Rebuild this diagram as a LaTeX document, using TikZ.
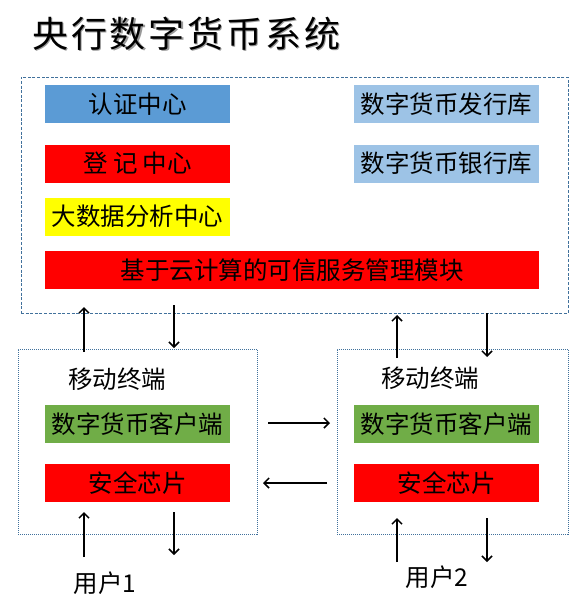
\documentclass[tikz,border=0pt]{standalone}
\usepackage{fontspec}
\setmainfont{Noto Sans CJK SC}
\newfontfamily\titlefont[LetterSpace=8]{Noto Sans CJK SC}
\usetikzlibrary{arrows.meta}
\definecolor{cblue}{HTML}{5B9BD5}
\definecolor{clight}{HTML}{9DC3E6}
\definecolor{cred}{HTML}{FF0000}
\definecolor{cyel}{HTML}{FFFF00}
\definecolor{cgreen}{HTML}{70AD47}
\definecolor{frame}{HTML}{41719C}
\begin{document}
\begin{tikzpicture}[x=1pt,y=-1pt,
  box/.style={rectangle, minimum width=185pt, minimum height=38pt, inner sep=0pt, font=\fontsize{24.5}{26}\selectfont, text=black},
  lbl/.style={font=\fontsize{24.5}{26}\selectfont, inner sep=0pt},
  sysframe/.style={draw=frame, line width=0.8pt, dash pattern=on 3pt off 1.6pt, inner sep=0pt},
  termframe/.style={draw=frame, line width=0.8pt, dash pattern=on 1pt off 1pt, inner sep=0pt},
  arr/.style={line width=1.5pt, -{Straight Barb[length=5pt,width=10pt]}}
]
\useasboundingbox (0,0) rectangle (586,613);
% title
\node[anchor=west, inner sep=0pt, text=black!40, font=\titlefont\fontsize{36}{40}\selectfont] at (33.2,35.2) {央行数字货币系统};
\node[anchor=west, inner sep=0pt, font=\titlefont\fontsize{36}{40}\selectfont] (title) at (32,34) {央行数字货币系统};
% system frame
\node[sysframe, minimum width=547pt, minimum height=236pt] (sys) at (294.5,195) {};
\node[box, fill=cblue] (auth) at (137.5,104) {认证中心};
\node[box, fill=cred] (reg) at (137.5,163.5) {登 记 中心};
\node[box, fill=cyel] (big) at (137.5,216.5) {大数据分析中心};
\node[box, fill=cred, minimum width=494pt] (cloud) at (292,270) {基于云计算的可信服务管理模块};
\node[box, fill=clight] (issue) at (446.5,104) {数字货币发行库};
\node[box, fill=clight] (bank) at (446.5,163.5) {数字货币银行库};
% terminal 1
\node[termframe, minimum width=239pt, minimum height=185pt] (t1) at (137.5,441.5) {};
\node[lbl] (m1) at (117,379) {移动终端};
\node[box, fill=cgreen] (c1) at (137.5,424) {数字货币客户端};
\node[box, fill=cred] (s1) at (137.5,483) {安全芯片};
\node[lbl] (u1) at (105,583) {用户1};
% terminal 2
\node[termframe, minimum width=231pt, minimum height=185pt] (t2) at (452.5,441.5) {};
\node[lbl] (m2) at (430,378) {移动终端};
\node[box, fill=cgreen] (c2) at (446.5,424) {数字货币客户端};
\node[box, fill=cred] (s2) at (446.5,483) {安全芯片};
\node[lbl] (u2) at (437,577) {用户2};
% arrow end points
\coordinate (a1s) at (84,352); \coordinate (a1e) at (84,307);
\coordinate (a2s) at (174,305); \coordinate (a2e) at (174,348);
\coordinate (a3s) at (84,557); \coordinate (a3e) at (84,512);
\coordinate (a4s) at (174,512); \coordinate (a4e) at (174,555);
\coordinate (b1s) at (397,358); \coordinate (b1e) at (397,315);
\coordinate (b2s) at (487,313); \coordinate (b2e) at (487,357);
\coordinate (b3s) at (397,562); \coordinate (b3e) at (397,518);
\coordinate (b4s) at (487,518); \coordinate (b4e) at (487,562);
\coordinate (h1s) at (268,423); \coordinate (h1e) at (330,423);
\coordinate (h2s) at (327,483); \coordinate (h2e) at (263,483);
\foreach \s/\e in {a1s/a1e,a2s/a2e,a3s/a3e,a4s/a4e,b1s/b1e,b2s/b2e,b3s/b3e,b4s/b4e,h1s/h1e,h2s/h2e}
  \draw[arr] (\s) -- (\e);
\end{tikzpicture}
\end{document}
